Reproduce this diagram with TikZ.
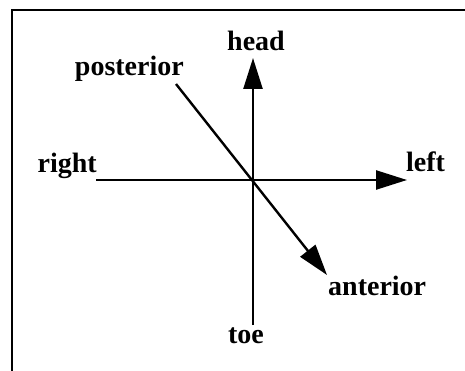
\documentclass[tikz,border=0pt]{standalone}
\usepackage{fontspec}
\setmainfont{Liberation Serif}
\usetikzlibrary{arrows.meta}

\begin{document}
\begin{tikzpicture}[
  x=1pt, y=-1pt,
  frame/.style={line width=2.2pt},
  axis/.style={line width=2.4pt, -{Triangle[length=31pt, width=19pt]}},
  lbl/.style={font=\bfseries\fontsize{28}{32}\selectfont, inner sep=0pt}
]
\useasboundingbox (0,0) rectangle (465,371);
% cropped frame
\draw[frame] (12,380) -- (12,10) -- (470,10);
% axis end points
\coordinate (ctr) at (253,180);
\coordinate (hd) at (253,58);
\coordinate (te) at (253,325);
\coordinate (rt) at (96,180);
\coordinate (lf) at (407,180);
\coordinate (ps) at (176,84);
\coordinate (an) at (327,275);
% labels
\node[lbl, anchor=base] (head) at (256,51) {head};
\node[lbl, anchor=base] (toe) at (246,343) {toe};
\node[lbl, anchor=base east] (right) at (97,173) {right};
\node[lbl, anchor=base west] (left) at (406,172) {left};
\node[lbl, anchor=base east] (posterior) at (184,76) {posterior};
\node[lbl, anchor=base west] (anterior) at (328,295) {anterior};
% axes
\draw[axis] (te) -- (hd);
\draw[axis] (rt) -- (lf);
\draw[axis] (ps) -- (an);
\end{tikzpicture}
\end{document}
